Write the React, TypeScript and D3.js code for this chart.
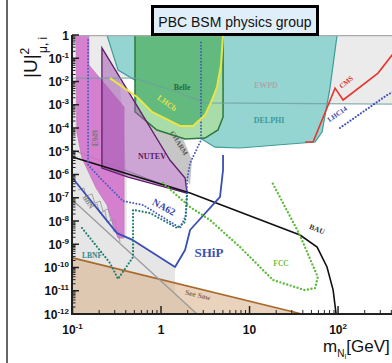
import React from "react";
import * as d3 from "d3";

type P = [number, number]; // [mass in GeV, |U|^2]

// excluded / sensitivity regions
const ewpdRegion: P[] = [[0.1, 1], [410, 1], [410, 1.07e-3], [3.1, 1.2e-3], [1.64, 3.2e-3], [0.51, 1.4e-2], [0.1, 1.4e-2]];
const ewpdLine: P[] = [[0.1, 1.4e-2], [0.51, 1.4e-2], [1.64, 3.2e-3], [3.1, 1.2e-3], [410, 1.07e-3]];
const bbnRegion: P[] = [[0.1, 1.4e-2], [0.34, 1.4e-2], [0.41, 8.6e-7], [0.41, 2.05e-9], [0.48, 1.5e-9], [1.44, 1.05e-10], [1.44, 7.6e-12], [2.55, 1e-12], [0.1, 1e-12]];
const bbnLine: P[] = [[0.1, 8e-8], [2.55, 1e-12]];
const bbnUpperLine: P[] = [[0.1, 1.13e-5], [1.87, 1.6e-7]];
const bbnZigA: P[] = [[0.115, 2.15e-7], [0.135, 2.6e-7], [0.142, 1.19e-7], [0.166, 1.45e-7], [0.179, 5.9e-8], [0.205, 7.2e-8], [0.221, 2.7e-8], [0.252, 3.3e-8], [0.272, 1e-8], [0.302, 1.22e-8], [0.318, 2.5e-9]];
const bbnZigB: P[] = [[0.135, 8e-8], [0.153, 9.7e-8], [0.166, 4.4e-8], [0.189, 5.4e-8], [0.205, 2.2e-8], [0.233, 2.7e-8], [0.245, 9e-9], [0.279, 1.1e-8], [0.294, 3.4e-9], [0.327, 4.1e-9], [0.344, 1.25e-9]];
const seesawLine: P[] = [[0.1, 2.6e-10], [39, 1e-12]];
const delphiRegion: P[] = [[0.245, 1], [97.5, 1], [81, 5.2e-3], [66, 6.7e-5], [55, 2.5e-5], [20.5, 1.86e-5], [7.8, 1.38e-5], [4.07, 1.5e-5], [2.76, 3.7e-5], [1.87, 6.1e-5], [0.975, 5.9e-4], [0.55, 9.5e-3], [0.327, 3.1e-2]];
const belleRegion: P[] = [[0.508, 1], [5.02, 1], [5.02, 3e-4], [4.4, 8.2e-5], [3.14, 3.7e-5], [1.87, 3.4e-5], [0.9, 8.2e-5], [0.508, 4.9e-4]];
const lhcbLine: P[] = [[0.265, 1.4e-2], [0.536, 2.15e-3], [0.79, 4.9e-4], [1.64, 1.22e-4], [2.3, 1.22e-4], [3.14, 3.6e-4], [3.77, 1.6e-3], [4.29, 5.8e-3], [4.76, 5.1e-2], [5.02, 1]];
const charmRegion: P[] = [[0.66, 2.7e-4], [1.37, 3.6e-4], [2.24, 4.2e-6], [2.13, 3.5e-7], [1.87, 7.1e-7], [1.26, 4.2e-6]];
const pinkRegion: P[] = [[0.11, 1], [0.153, 1], [0.153, 5.1e-2], [0.382, 8e-4], [0.382, 1.86e-9], [0.327, 1.86e-9], [0.245, 4.9e-8], [0.185, 2.6e-7], [0.128, 5.1e-6], [0.112, 6.7e-5]];
const nutevRegion: P[] = [[0.215, 0.28], [1.26, 4.2e-6], [1.87, 7.1e-7], [1.97, 1.6e-7], [0.424, 7.8e-7], [0.215, 1.9e-6]];

// curves
const shipLine: P[] = [[0.1, 7.1e-7], [0.318, 3e-9], [0.483, 1.5e-9], [1.44, 1.05e-10], [1.87, 5.7e-10], [2.13, 4.1e-9], [4.64, 1.08e-7], [5.02, 1.56e-6], [5.02, 6.9e-6]];
const bauLine: P[] = [[0.1, 5.7e-6], [2.13, 1.6e-7], [37.2, 2.5e-9], [58, 7.6e-10], [75, 1.05e-10], [88, 1.07e-11], [95, 1e-12]];
const fccLine: P[] = [[1.05, 4.3e-7], [2.13, 4e-8], [3.58, 1.1e-8], [7.8, 7.6e-10], [18.4, 2.9e-11], [42, 1.07e-11], [55, 1.3e-11], [59, 3.9e-11], [37, 2.5e-9], [17.9, 4.8e-7]];
const na62Line: P[] = [[0.15, 0.61], [0.15, 2.6e-6], [0.205, 7.1e-7], [0.372, 7.2e-8], [0.626, 4.9e-8], [1.64, 5e-9], [1.92, 1.8e-8], [1.97, 5.8e-7], [2.13, 3.1e-6], [2.83, 3e-5], [2.83, 0.61]];
const lbnfLine: P[] = [[0.128, 5e-9], [0.265, 1.56e-10], [0.327, 3.2e-11], [0.483, 2.8e-10], [0.483, 3e-8], [0.75, 2.2e-8], [1.52, 5e-9], [1.87, 9e-9], [1.97, 1.3e-7]];
const cmsLine: P[] = [[42.4, 2.5e-5], [52.2, 2.5e-5], [92.5, 5.2e-3], [114, 1.6e-3], [283, 2.3e-2], [440, 0.2]];
const lhc14Line: P[] = [[105, 1e-4], [358, 2.6e-3], [500, 5.2e-3]];

const labels = [
  { t: "Belle", m: 1.73, u: 5.8e-3, c: "#2a6a35", s: 8, r: 0 },
  { t: "LHCb", m: 1.17, u: 1.19e-3, c: "#e6e24a", s: 8, r: 35 },
  { t: "CHARM", m: 1.6, u: 2.26e-5, c: "#555", s: 7, r: 58 },
  { t: "NUTEV", m: 0.79, u: 6.2e-6, c: "#5a1a60", s: 8, r: 0 },
  { t: "E949", m: 0.18, u: 3.7e-5, c: "#777", s: 7.5, r: -90 },
  { t: "BBN", m: 0.15, u: 6.6e-8, c: "#888", s: 7, r: 58 },
  { t: "LBNF", m: 0.166, u: 3.45e-10, c: "#2a8a88", s: 7.5, r: 0 },
  { t: "NA62", m: 1.08, u: 4e-8, c: "#3a4aa8", s: 10, r: 28 },
  { t: "SHiP", m: 3.48, u: 4.6e-10, c: "#3a50b0", s: 13, r: 0 },
  { t: "FCC", m: 22.7, u: 1.56e-10, c: "#6cbf3c", s: 7.5, r: 0 },
  { t: "BAU", m: 58, u: 4.5e-9, c: "#333", s: 7.5, r: 22 },
  { t: "See Saw", m: 2.62, u: 6.6e-12, c: "#8a6a50", s: 7.5, r: 13 },
  { t: "EWPD", m: 15.3, u: 7.1e-3, c: "#a8a8a8", s: 8, r: 0 },
  { t: "DELPHI", m: 16.6, u: 2.2e-4, c: "#3a9a9a", s: 8, r: 0 },
  { t: "CMS", m: 123, u: 9.5e-3, c: "#e03030", s: 7, r: -38 },
  { t: "LHC14", m: 97.5, u: 4e-4, c: "#3a4aa8", s: 7, r: -35 },
];

const yTickExps = [0, -1, -2, -3, -4, -5, -6, -7, -8, -9, -10, -11, -12];
const xTickLabels = [
  { v: 0.1, base: "10", sup: "-1" },
  { v: 1, base: "1", sup: "" },
  { v: 10, base: "10", sup: "" },
  { v: 100, base: "10", sup: "2" },
];

const x = d3.scaleLog().domain([0.1, 410]).range([72.5, 392.3]);
const y = d3.scaleLog().domain([1e-12, 1]).range([314, 35]);
const line = d3.line<P>().x(d => x(d[0])).y(d => y(d[1]));
const poly = (pts: P[]) => line(pts) + "Z";

const x0 = 72, x1 = 392, yTop = 35, yBot = 314;

export default function App() {
  const xMinor: number[] = [];
  [0.1, 1, 10, 100].forEach(dec => {
    for (let k = 2; k <= 9; k++) if (k * dec <= 410) xMinor.push(k * dec);
  });
  const yMinor: number[] = [];
  for (let e = -12; e < 0; e++) for (let k = 2; k <= 9; k++) yMinor.push(k * Math.pow(10, e));

  const lhcbBand: P[] = [...lhcbLine.filter(d => d[0] >= 0.5), ...belleRegion.slice(2)];
  const seesawRegion: P[] = [...seesawLine, [0.1, 1e-12]];

  const dotted = (pts: P[], color: string, w: number, gap: number) => (
    <path d={line(pts) || ""} fill="none" stroke={color} strokeWidth={w}
      strokeDasharray={`0 ${gap}`} strokeLinecap="round" strokeLinejoin="round" />
  );

  return (
    <svg width={392} height={363} style={{ position: "absolute", left: 0, top: 0, background: "#fff" }}
      fontFamily="Liberation Serif">
      <defs>
        <clipPath id="plot">
          <rect x={x0} y={yTop} width={x1 - x0} height={yBot - yTop} />
        </clipPath>
      </defs>
      <line x1={7} y1={0} x2={7} y2={363} stroke="#333" strokeWidth={1.5} />

      <g clipPath="url(#plot)">
        <path d={poly(ewpdRegion)} fill="#ebebeb" />
        <path d={poly(bbnRegion)} fill="#e6e6e6" />
        <path d={poly(seesawRegion)} fill="#d9ae85" opacity={0.55} />
        <path d={line(seesawLine) || ""} fill="none" stroke="#a8692e" strokeWidth={1.6} />
        <path d={line(bbnLine) || ""} fill="none" stroke="#9a9a9a" strokeWidth={1.3} />
        <path d={line(bbnZigA) || ""} fill="none" stroke="#a4a4a4" strokeWidth={1} />
        <path d={line(bbnZigB) || ""} fill="none" stroke="#a4a4a4" strokeWidth={1} />
        <path d={line(bbnUpperLine) || ""} fill="none" stroke="#8c8c8c" strokeWidth={1} />

        <path d={poly(delphiRegion)} fill="#95d5d1" stroke="#3e9d96" strokeWidth={1.2} />
        <path d={poly(charmRegion)} fill="#c6c6c6" />
        <path d={poly(belleRegion)} fill="#62ba7e" />
        <path d={poly(lhcbBand)} fill="#a8dca8" />
        <path d={poly(belleRegion)} fill="none" stroke="#2a7a3c" strokeWidth={1.5} />
        <path d={poly(pinkRegion)} fill="#d36fcb" opacity={0.85} stroke="#c060b8" strokeWidth={0.8} />
        <path d={poly(nutevRegion)} fill="#a25bb3" fillOpacity={0.55} stroke="#5e1e68" strokeWidth={1.3} />
        <path d={line(ewpdLine) || ""} fill="none" stroke="#6f9f9f" strokeOpacity={0.8} strokeWidth={1.2} />
        <line x1={x0} x2={x1} y1={yTop + 0.5} y2={yTop + 0.5} stroke="#aaa" strokeWidth={1.5} />

        <path d={line(bauLine) || ""} fill="none" stroke="#111" strokeWidth={1.6} />
        <path d={line(shipLine) || ""} fill="none" stroke="#3a4fb3" strokeWidth={1.8} strokeLinejoin="round" />
        {dotted(fccLine, "#5dbb3e", 2.4, 3.6)}
        {dotted(na62Line, "#4a5ac0", 2, 3.2)}
        {dotted(lbnfLine, "#1f7d70", 2.2, 3.4)}
        {dotted(lhc14Line, "#3f4fb8", 2.2, 3.2)}
        <path d={line(lhcbLine) || ""} fill="none" stroke="#e9e548" strokeWidth={2} />
        <path d={line(cmsLine) || ""} fill="none" stroke="#e8352f" strokeWidth={1.6} />

        {labels.map(l => (
          <text key={l.t} transform={`translate(${x(l.m)},${y(l.u)}) rotate(${l.r})`}
            textAnchor="middle" dy="0.35em" fontSize={l.s} fontWeight="bold" fill={l.c}>{l.t}</text>
        ))}
      </g>

      {/* axes */}
      <g stroke="#222">
        <line x1={x0} x2={x0} y1={yTop} y2={yBot + 1} strokeWidth={2} />
        <line x1={x0 - 1} x2={x1} y1={yBot} y2={yBot} strokeWidth={2} />
        {yTickExps.map(e => (
          <line key={"ym" + e} x1={x0} x2={x0 + 7} y1={y(Math.pow(10, e))} y2={y(Math.pow(10, e))} strokeWidth={1.5} />
        ))}
        {yMinor.map((v, i) => (
          <line key={"yn" + i} x1={x0} x2={x0 + 3.5} y1={y(v)} y2={y(v)} strokeWidth={1} />
        ))}
        {[0.1, 1, 10, 100].map(v => (
          <line key={"xm" + v} x1={x(v)} x2={x(v)} y1={yBot} y2={yBot - 8} strokeWidth={1.5} />
        ))}
        {xMinor.map((v, i) => (
          <line key={"xn" + i} x1={x(v)} x2={x(v)} y1={yBot} y2={yBot - 4} strokeWidth={1} />
        ))}
      </g>

      <g fontFamily="Liberation Sans" fontWeight="bold" fill="#111">
        {yTickExps.map(e => (
          <text key={"yl" + e} x={69} y={y(Math.pow(10, e)) + 4.5} textAnchor="end" fontSize={12}>
            {e === 0 ? "1" : <>10<tspan fontSize={8} dy={-5}>{String(e)}</tspan></>}
          </text>
        ))}
        {xTickLabels.map(t => (
          <text key={"xl" + t.v} x={x(t.v)} y={334} textAnchor="middle" fontSize={12}>
            {t.base}{t.sup ? <tspan fontSize={8} dy={-5}>{t.sup}</tspan> : null}
          </text>
        ))}
      </g>

      {/* axis titles */}
      <g fontFamily="Liberation Sans" fill="#111">
        <text transform="translate(37,78) rotate(-90)" fontSize={19}>
          |U|<tspan fontSize={12} dy={-8}>2</tspan>
        </text>
        <text transform="translate(37,78) rotate(-90)" x={25} y={10} fontSize={12}>μ, i</text>
        <text x={323} y={352} fontSize={17}>
          m<tspan fontSize={10} dy={5}>N</tspan><tspan fontSize={7} dy={2}>I</tspan><tspan dy={-7}>[GeV]</tspan>
        </text>
      </g>

      {/* title box */}
      <rect x={152.5} y={6.5} width={165} height={28} fill="#dfeef8" stroke="#000" strokeWidth={3} />
      <text x={235} y={27} textAnchor="middle" fontFamily="Liberation Sans" fontSize={14} fill="#111">PBC BSM physics group</text>
    </svg>
  );
}
